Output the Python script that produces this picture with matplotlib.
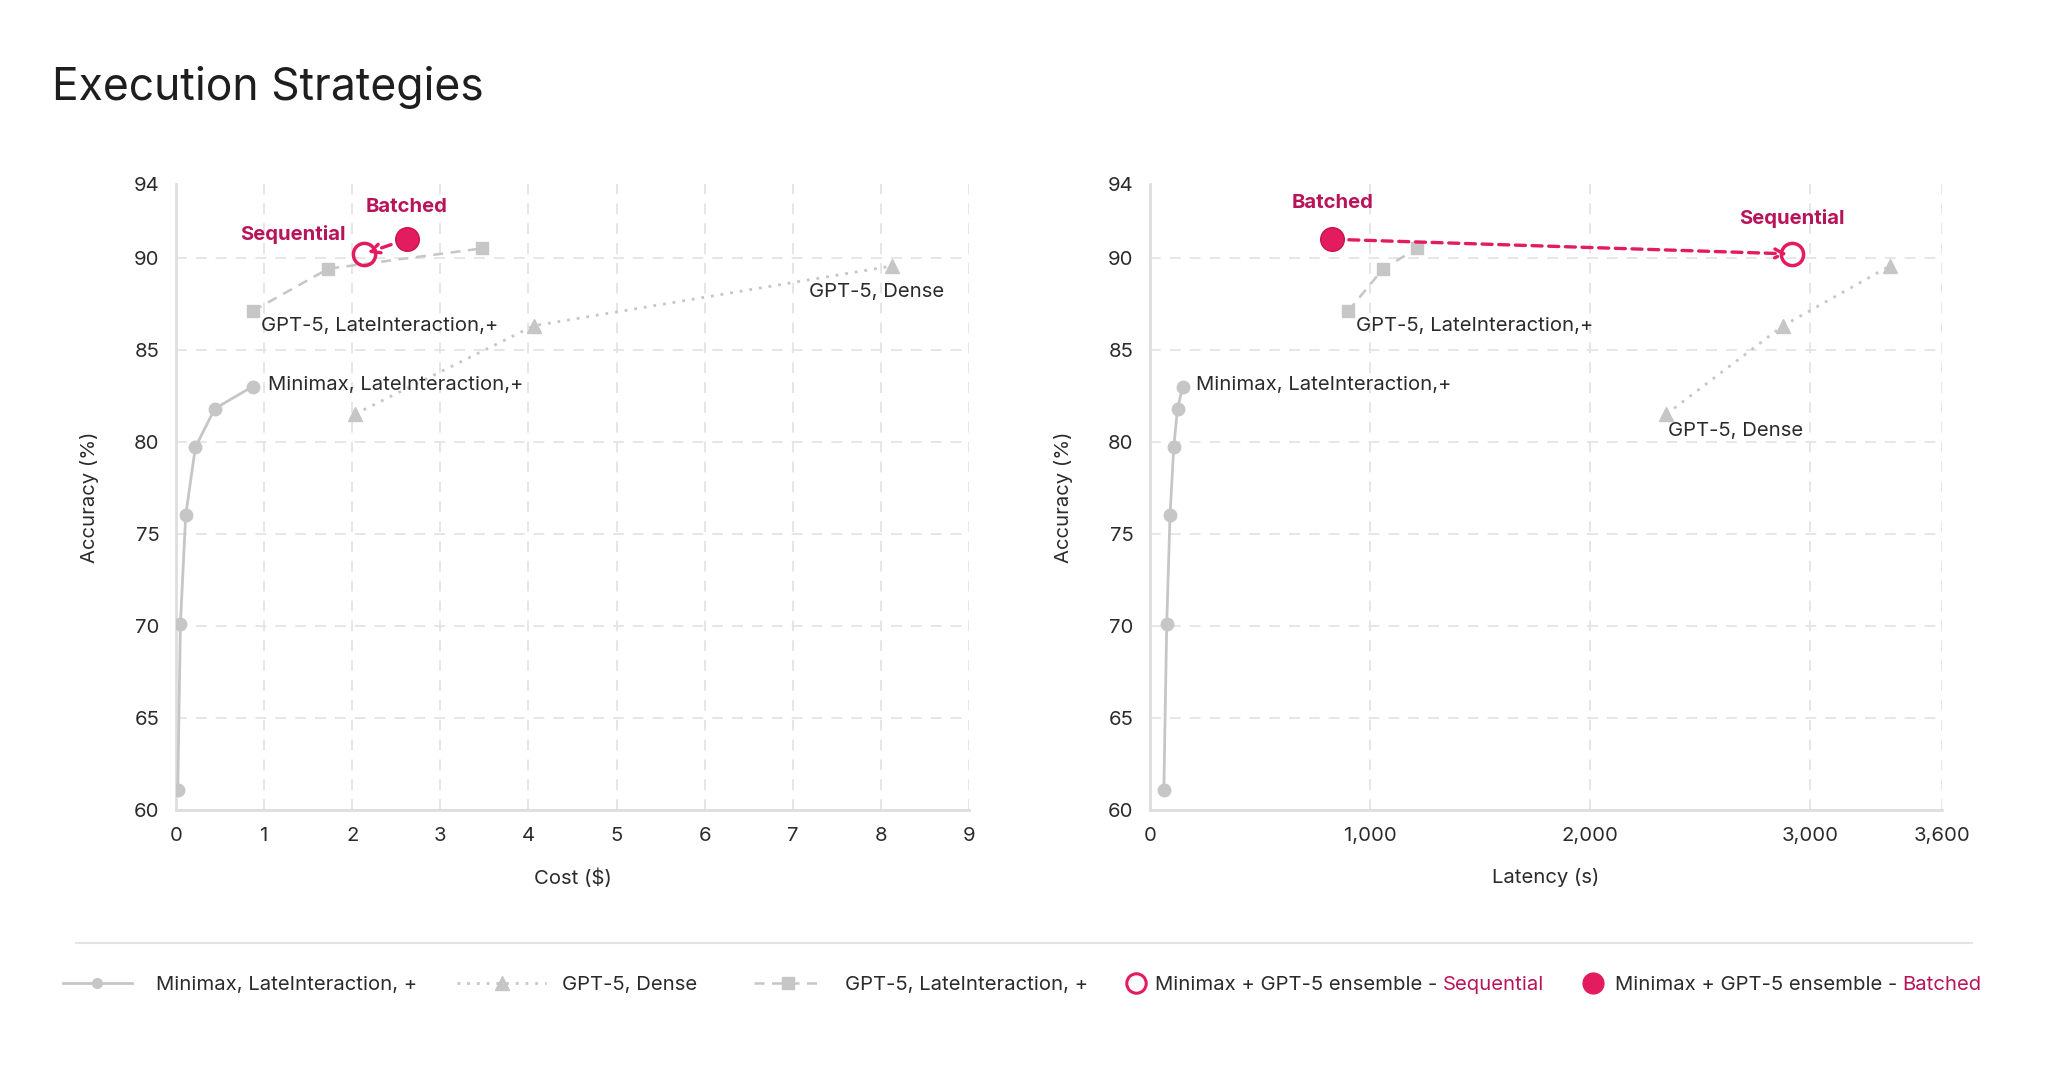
import matplotlib
matplotlib.use("Agg")
import matplotlib.pyplot as plt
from matplotlib.lines import Line2D
from matplotlib.ticker import FuncFormatter
from matplotlib.transforms import IdentityTransform

plt.rcParams['font.family'] = ['Inter', 'DejaVu Sans']

# data
minimax_cost = [0.02, 0.05, 0.11, 0.22, 0.44, 0.87]
minimax_lat = [63, 76, 91, 108, 125, 149]
minimax_acc = [61.1, 70.1, 76.0, 79.7, 81.8, 83.0]

dense_cost = [2.03, 4.06, 8.13]
dense_lat = [2347, 2877, 3363]
dense_acc = [81.5, 86.3, 89.55]

late_cost = [0.87, 1.73, 3.47]
late_lat = [901, 1060, 1214]
late_acc = [87.1, 89.4, 90.5]

seq_cost, seq_lat, seq_acc = 2.13, 2916, 90.2
bat_cost, bat_lat, bat_acc = 2.62, 828, 91.0

cost_ticks = [0, 1, 2, 3, 4, 5, 6, 7, 8, 9]
lat_ticks = [0, 1000, 2000, 3000, 3600]
acc_ticks = [60, 65, 70, 75, 80, 85, 90, 94]

GREY = '#C6C6C6'
PINK = '#E31B5F'
PINK_TXT = '#B8145A'
GRID = '#E4E4E4'
TXT = '#2B2B2B'
FS = 14.6

W, H = 2048, 1079
fig = plt.figure(figsize=(W / 100, H / 100), dpi=100)
fig.patch.set_facecolor('white')

ax1 = fig.add_axes([176 / W, 1 - 810 / H, 793 / W, 626 / H])
ax2 = fig.add_axes([1150 / W, 1 - 810 / H, 792 / W, 626 / H])


def style_axis(ax, xlim, xticks, xlabel):
    ax.set_xlim(*xlim)
    ax.set_ylim(60, 94)
    ax.set_xticks(xticks)
    ax.set_yticks(acc_ticks)
    ax.grid(True, linestyle=(0, (6, 5)), color=GRID, linewidth=1.3)
    ax.yaxis.get_gridlines()[-1].set_visible(False)
    ax.set_axisbelow(True)
    for s in ['top', 'right']:
        ax.spines[s].set_visible(False)
    for s in ['left', 'bottom']:
        ax.spines[s].set_color('#DEDEDE')
        ax.spines[s].set_linewidth(2)
    ax.tick_params(length=0, labelsize=FS, labelcolor=TXT)
    ax.tick_params(axis='y', pad=12)
    ax.tick_params(axis='x', pad=12)
    ax.set_xlabel(xlabel, fontsize=FS, color=TXT, labelpad=17)
    ax.set_ylabel('Accuracy (%)', fontsize=FS, color=TXT, labelpad=25)


def draw_series(ax, mx, dx, lx, sx, bx):
    ax.plot(mx, minimax_acc, color=GREY, lw=2, marker='o', ms=9, zorder=3)
    ax.plot(dx, dense_acc, color=GREY, lw=2, ls=(0, (1, 2.5)), marker='^', ms=10, zorder=3)
    ax.plot(lx, late_acc, color=GREY, lw=1.8, ls=(0, (4, 3)), marker='s', ms=8, zorder=3)
    ax.annotate('', xy=(sx, seq_acc), xytext=(bx, bat_acc),
                arrowprops=dict(arrowstyle='->', color=PINK, lw=2.4, linestyle=(0, (3, 2)),
                                shrinkA=12, shrinkB=3, mutation_scale=16), zorder=4)
    ax.plot([sx], [seq_acc], linestyle='none', marker='o', ms=16, mfc='none',
            mec=PINK, mew=2.5, zorder=5)
    ax.plot([bx], [bat_acc], linestyle='none', marker='o', ms=17, mfc=PINK,
            mec='#C9124F', mew=1, zorder=5)


def label(ax, text, xy, off, ha='left', va='center', bold=False):
    ax.annotate(text, xy=xy, xytext=off, textcoords='offset pixels', ha=ha, va=va,
                fontsize=FS, color=PINK_TXT if bold else TXT,
                fontweight='bold' if bold else 'normal', zorder=6)


# left: cost
draw_series(ax1, minimax_cost, dense_cost, late_cost, seq_cost, bat_cost)
style_axis(ax1, (0, 9), cost_ticks, 'Cost ($)')
label(ax1, 'GPT-5, LateInteraction,+', (late_cost[0], late_acc[0]), (8, -15))
label(ax1, 'Minimax, LateInteraction,+', (minimax_cost[-1], minimax_acc[-1]), (15, 2))
label(ax1, 'GPT-5, Dense', (dense_cost[-1], dense_acc[-1]), (52, -26), ha='right')
label(ax1, 'Batched', (bat_cost, bat_acc), (0, 32), ha='center', bold=True)
label(ax1, 'Sequential', (seq_cost, seq_acc), (-18, 19), ha='right', bold=True)

# right: latency
draw_series(ax2, minimax_lat, dense_lat, late_lat, seq_lat, bat_lat)
style_axis(ax2, (0, 3600), lat_ticks, 'Latency (s)')
ax2.xaxis.set_major_formatter(FuncFormatter(lambda v, p: '{:,.0f}'.format(v)))
label(ax2, 'GPT-5, LateInteraction,+', (late_lat[0], late_acc[0]), (8, -15))
label(ax2, 'Minimax, LateInteraction,+', (minimax_lat[-1], minimax_acc[-1]), (13, 2))
label(ax2, 'GPT-5, Dense', (dense_lat[0], dense_acc[0]), (2, -17))
label(ax2, 'Batched', (bat_lat, bat_acc), (0, 36), ha='center', bold=True)
label(ax2, 'Sequential', (seq_lat, seq_acc), (0, 35), ha='center', bold=True)

# title
fig.text(52 / W, 1 - 100 / H, 'Execution Strategies', fontsize=32, color='#1E1E1E',
         ha='left', va='baseline')

# separator above legend
fig.add_artist(Line2D([76 / W, 1972 / W], [1 - 943 / H, 1 - 943 / H],
                      transform=fig.transFigure, color='#E3E3E3', lw=1.5))

# legend, one entry at a time so each sample keeps its own width
leg_y = 1 - 985 / H
entries = [
    (Line2D([], [], color=GREY, lw=2, marker='o', ms=7), 'Minimax, LateInteraction, +', 63, 3.4, 1.2),
    (Line2D([], [], color=GREY, lw=2, ls=(0, (1, 2.5)), marker='^', ms=10), 'GPT-5, Dense', 457, 4.4, 0.8),
    (Line2D([], [], color=GREY, lw=1.8, ls=(0, (4, 3)), marker='s', ms=8), 'GPT-5, LateInteraction, +', 754, 3.4, 1.1),
    (Line2D([], [], ls='none', marker='o', ms=14, mfc='white', mec=PINK, mew=2.2), 'Minimax + GPT-5 ensemble -', 1126, 1.0, 0.45),
    (Line2D([], [], ls='none', marker='o', ms=15, mfc=PINK, mec=PINK), 'Minimax + GPT-5 ensemble -', 1583, 1.0, 0.6),
]
legends = []
for handle, text, x0, hl, pad in entries:
    leg = fig.legend(handles=[handle], labels=[text], loc='center left',
                     bbox_to_anchor=(x0 / W, leg_y), frameon=False, borderpad=0,
                     borderaxespad=0, handlelength=hl, handletextpad=pad, fontsize=FS)
    for t in leg.get_texts():
        t.set_color(TXT)
    legends.append(leg)

# coloured tail of the last two legend labels
fig.canvas.draw()
for leg, word in [(legends[3], 'Sequential'), (legends[4], 'Batched')]:
    bb = leg.get_texts()[0].get_window_extent()
    fig.text(bb.x1 + 5, bb.y0, word, transform=IdentityTransform(), ha='left',
             va='bottom', fontsize=FS, color=PINK_TXT)

fig.savefig('out.png', dpi=100, facecolor='white')
